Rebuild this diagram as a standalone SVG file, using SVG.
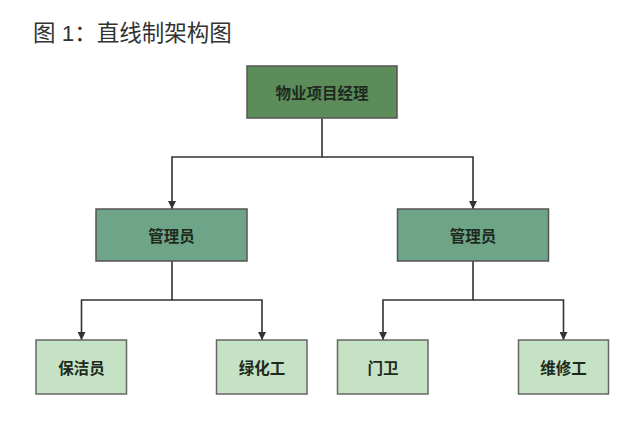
<svg xmlns="http://www.w3.org/2000/svg" width="640" height="434" viewBox="0 0 640 434">
<defs>
<style>
.title{font-family:"Liberation Sans","Noto Sans CJK SC",sans-serif;font-size:22.5px;fill:#333}
.lbl{font-family:"Noto Sans CJK SC",sans-serif;font-size:15.5px;font-weight:bold;fill:#1e2a1e;text-anchor:middle;dominant-baseline:central}
.top{fill:#5b8c5a;stroke:#555;stroke-width:1.5}
.mid{fill:#6ea487;stroke:#555;stroke-width:1.5}
.leaf{fill:#c5e3c4;stroke:#666;stroke-width:1.5}
.ln{fill:none;stroke:#333;stroke-width:1.6}
</style>
<marker id="arr" viewBox="0 0 10 10" refX="10" refY="5" markerWidth="10" markerHeight="8" markerUnits="userSpaceOnUse" orient="auto">
<path d="M0,0 L10,5 L0,10 z" fill="#333"/>
</marker>
</defs>
<rect width="640" height="434" fill="#fff"/>
<text class="title" x="33" y="41">图 1：直线制架构图</text>
<g id="connectors">
<path class="ln" d="M322,118 V157 H172 V209" marker-end="url(#arr)"/>
<path class="ln" d="M322,157 H473 V209" marker-end="url(#arr)"/>
<path class="ln" d="M172,261 V300 H81.5 V340" marker-end="url(#arr)"/>
<path class="ln" d="M172,300 H262 V340" marker-end="url(#arr)"/>
<path class="ln" d="M473,261 V300 H383 V340" marker-end="url(#arr)"/>
<path class="ln" d="M473,300 H563.5 V340" marker-end="url(#arr)"/>
</g>
<g id="n-manager">
<rect class="top" x="247" y="66" width="150" height="52"/>
<text class="lbl" x="322" y="92">物业项目经理</text>
</g>
<g id="n-admin-left">
<rect class="mid" x="96" y="209" width="151" height="52"/>
<text class="lbl" x="171.5" y="235">管理员</text>
</g>
<g id="n-admin-right">
<rect class="mid" x="397.5" y="209" width="151" height="52"/>
<text class="lbl" x="473" y="235">管理员</text>
</g>
<g id="n-cleaner">
<rect class="leaf" x="36" y="340" width="90.5" height="54"/>
<text class="lbl" x="81.5" y="367">保洁员</text>
</g>
<g id="n-gardener">
<rect class="leaf" x="216.5" y="340" width="90.5" height="54"/>
<text class="lbl" x="262" y="367">绿化工</text>
</g>
<g id="n-guard">
<rect class="leaf" x="337.5" y="340" width="90.5" height="54"/>
<text class="lbl" x="383" y="367">门卫</text>
</g>
<g id="n-repair">
<rect class="leaf" x="518.5" y="340" width="90" height="54"/>
<text class="lbl" x="563.5" y="367">维修工</text>
</g>
</svg>
